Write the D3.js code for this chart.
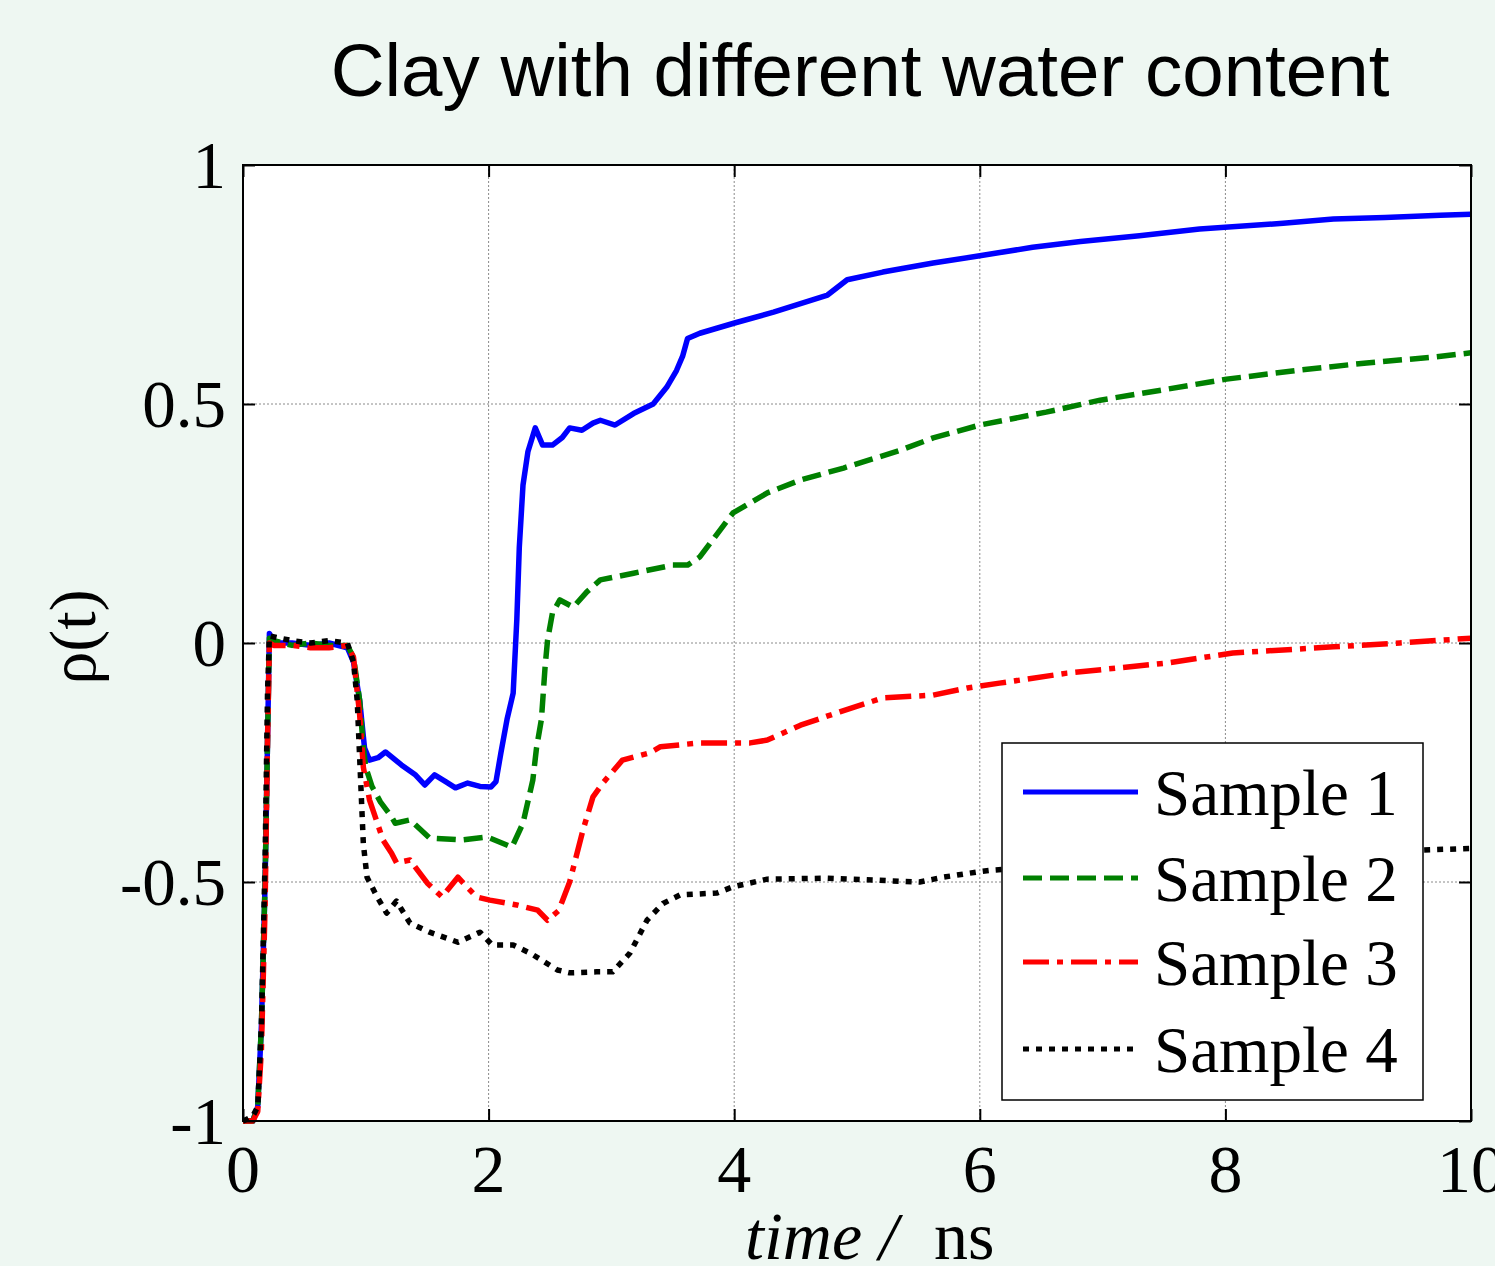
<!DOCTYPE html>
<html>
<head>
<meta charset="utf-8">
<script src="https://cdn.jsdelivr.net/npm/d3@7/dist/d3.min.js"></script>
<style>
  html, body { margin: 0; padding: 0; background: #EEF7F2; }
  svg { display: block; }
</style>
</head>
<body>
<svg id="chart" width="1495" height="1266"></svg>
<script>
// ---- data (time in ns, rho(t)) ----
const seriesNames = ["Sample 1", "Sample 2", "Sample 3", "Sample 4"];
const xTicks = [0, 2, 4, 6, 8, 10];
const yTicks = [-1, -0.5, 0, 0.5, 1];
const yTickLabels = ["-1", "-0.5", "0", "0.5", "1"];

const sample1 = [[0,-1],[0.08,-1],[0.12,-0.97],[0.15,-0.8],[0.18,-0.5],[0.2,-0.2],[0.215,0.02],[0.25,0.0],[0.4,0.0],[0.55,-0.005],[0.7,0],[0.85,-0.01],[0.9,-0.04],[0.95,-0.12],[0.99,-0.22],[1.03,-0.245],[1.1,-0.24],[1.16,-0.228],[1.29,-0.255],[1.4,-0.275],[1.48,-0.297],[1.56,-0.276],[1.65,-0.29],[1.73,-0.303],[1.83,-0.293],[1.93,-0.3],[2.02,-0.301],[2.06,-0.29],[2.1,-0.23],[2.15,-0.16],[2.2,-0.105],[2.23,0.05],[2.25,0.2],[2.28,0.33],[2.32,0.4],[2.38,0.45],[2.44,0.414],[2.52,0.414],[2.6,0.43],[2.66,0.45],[2.76,0.445],[2.85,0.46],[2.91,0.466],[3.03,0.456],[3.18,0.48],[3.34,0.5],[3.45,0.535],[3.53,0.57],[3.58,0.6],[3.62,0.637],[3.72,0.648],[4.01,0.67],[4.32,0.692],[4.76,0.728],[4.92,0.76],[5.21,0.776],[5.62,0.795],[6.0,0.81],[6.43,0.828],[6.82,0.84],[7.3,0.852],[7.79,0.866],[8.47,0.878],[8.88,0.887],[9.3,0.89],[9.75,0.895],[10,0.897]];

const sample2 = [[0,-1],[0.08,-1],[0.12,-0.97],[0.15,-0.8],[0.18,-0.5],[0.2,-0.2],[0.215,0.01],[0.25,0.005],[0.4,-0.005],[0.55,0],[0.7,-0.005],[0.85,-0.005],[0.9,-0.03],[0.95,-0.12],[0.98,-0.22],[1.0,-0.26],[1.05,-0.3],[1.12,-0.333],[1.2,-0.36],[1.24,-0.377],[1.36,-0.37],[1.52,-0.408],[1.78,-0.412],[1.99,-0.406],[2.19,-0.427],[2.28,-0.377],[2.36,-0.287],[2.39,-0.22],[2.43,-0.16],[2.46,-0.05],[2.48,0.006],[2.52,0.063],[2.58,0.09],[2.69,0.075],[2.8,0.107],[2.91,0.132],[3.18,0.146],[3.5,0.163],[3.62,0.163],[3.72,0.18],[3.99,0.272],[4.27,0.314],[4.54,0.341],[4.89,0.366],[5.35,0.403],[5.62,0.429],[6.0,0.456],[6.54,0.483],[6.98,0.508],[7.5,0.53],[8.01,0.552],[8.61,0.571],[9.15,0.586],[9.69,0.598],[10,0.607]];

const sample3 = [[0,-1],[0.08,-1],[0.12,-0.98],[0.15,-0.85],[0.18,-0.55],[0.2,-0.2],[0.215,0],[0.25,-0.005],[0.4,-0.005],[0.55,-0.01],[0.7,-0.01],[0.85,-0.005],[0.9,-0.03],[0.95,-0.15],[0.98,-0.26],[1.03,-0.328],[1.14,-0.412],[1.21,-0.44],[1.25,-0.46],[1.36,-0.454],[1.5,-0.502],[1.62,-0.531],[1.75,-0.49],[1.9,-0.531],[2.01,-0.538],[2.23,-0.548],[2.4,-0.559],[2.48,-0.58],[2.57,-0.56],[2.66,-0.5],[2.77,-0.39],[2.85,-0.322],[2.93,-0.293],[3.09,-0.245],[3.31,-0.23],[3.4,-0.217],[3.72,-0.209],[4.13,-0.209],[4.27,-0.203],[4.54,-0.172],[4.86,-0.144],[5.21,-0.115],[5.62,-0.109],[5.9,-0.094],[6.16,-0.084],[6.71,-0.063],[7.52,-0.042],[8.06,-0.021],[8.88,-0.008],[9.42,0],[10,0.01]];

const sample4 = [[0,-1],[0.08,-0.99],[0.12,-0.97],[0.15,-0.8],[0.18,-0.45],[0.2,-0.1],[0.215,0.015],[0.3,0.01],[0.4,0.005],[0.55,0],[0.7,0.005],[0.85,0],[0.9,-0.04],[0.93,-0.12],[0.96,-0.3],[0.98,-0.42],[1.01,-0.49],[1.09,-0.53],[1.17,-0.565],[1.25,-0.54],[1.36,-0.586],[1.52,-0.605],[1.75,-0.626],[1.93,-0.605],[2.03,-0.632],[2.2,-0.632],[2.34,-0.649],[2.56,-0.684],[2.66,-0.69],[2.88,-0.688],[3.01,-0.688],[3.15,-0.649],[3.29,-0.58],[3.42,-0.545],[3.56,-0.527],[3.86,-0.523],[3.99,-0.51],[4.27,-0.494],[4.76,-0.492],[5.51,-0.5],[5.7,-0.49],[5.98,-0.479],[6.11,-0.475],[7,-0.46],[8,-0.448],[9,-0.44],[9.6,-0.433],[10,-0.43]];

const seriesData = [sample1, sample2, sample3, sample4];
const seriesColors = ["#0000FF", "#008000", "#FF0000", "#000000"];
const seriesDash = [null, "19,8", "26,8,6,8", "6,7"];

// ---- layout ----
const svg = d3.select("#chart");
const L = 243, R = 1471, T = 165, B = 1121;
const x = d3.scaleLinear().domain([0, 10]).range([L, R]);
const y = d3.scaleLinear().domain([-1, 1]).range([B, T]);

svg.append("rect").attr("x", 0).attr("y", 0).attr("width", 1495).attr("height", 1266).attr("fill", "#EEF7F2");
svg.append("rect").attr("x", L).attr("y", T).attr("width", R - L).attr("height", B - T).attr("fill", "#FFFFFF");

// grid
const grid = svg.append("g").attr("stroke", "#8a8a8a").attr("stroke-width", 1).attr("stroke-dasharray", "2,2");
xTicks.filter(t => t > 0 && t < 10).forEach(t => {
  grid.append("line").attr("x1", x(t)).attr("x2", x(t)).attr("y1", T).attr("y2", B);
});
yTicks.filter(t => t > -1 && t < 1).forEach(t => {
  grid.append("line").attr("x1", L).attr("x2", R).attr("y1", y(t)).attr("y2", y(t));
});

// clip
svg.append("defs").append("clipPath").attr("id", "plotclip")
  .append("rect").attr("x", L).attr("y", T - 3).attr("width", R - L).attr("height", B - T + 6);

const line = d3.line().x(d => x(d[0])).y(d => y(d[1]));
const lines = svg.append("g").attr("clip-path", "url(#plotclip)");
seriesData.forEach((data, i) => {
  lines.append("path").datum(data)
    .attr("d", line)
    .attr("fill", "none")
    .attr("stroke", seriesColors[i])
    .attr("stroke-width", 5.5)
    .attr("stroke-linejoin", "round")
    .attr("stroke-dasharray", seriesDash[i]);
});

// axes (ticks inside on all sides)
const tickLen = 12;
const axB = d3.axisBottom(x).tickValues(xTicks).tickSize(-tickLen).tickFormat("");
const axT = d3.axisTop(x).tickValues(xTicks).tickSize(-tickLen).tickFormat("");
const axLft = d3.axisLeft(y).tickValues(yTicks).tickSize(-tickLen).tickFormat("");
const axRgt = d3.axisRight(y).tickValues(yTicks).tickSize(-tickLen).tickFormat("");
[[axB, `translate(0,${B})`], [axT, `translate(0,${T})`], [axLft, `translate(${L},0)`], [axRgt, `translate(${R},0)`]].forEach(([ax, tr]) => {
  const g = svg.append("g").attr("transform", tr).call(ax);
  g.select(".domain").remove();
  g.selectAll(".tick line").attr("stroke", "#000").attr("stroke-width", 2);
});
svg.append("rect").attr("x", L).attr("y", T).attr("width", R - L).attr("height", B - T)
  .attr("fill", "none").attr("stroke", "#000").attr("stroke-width", 2);

// tick labels
const serif = "'Liberation Serif', 'Times New Roman', serif";
svg.append("g").selectAll("text").data(xTicks).join("text")
  .attr("x", d => x(d)).attr("y", 1192)
  .attr("text-anchor", "middle")
  .attr("font-family", serif).attr("font-size", 68).attr("fill", "#000")
  .text(d => d);
svg.append("g").selectAll("text").data(yTicks).join("text")
  .attr("x", 226).attr("y", d => y(d) + 23)
  .attr("text-anchor", "end")
  .attr("font-family", serif).attr("font-size", 67).attr("fill", "#000")
  .text((d, i) => yTickLabels[i]);

// title
svg.append("text").attr("x", 860).attr("y", 96).attr("text-anchor", "middle")
  .attr("font-family", "'Liberation Sans', Arial, sans-serif").attr("font-size", 74.5).attr("fill", "#000")
  .text("Clay with different water content");

// x label
const xl = svg.append("text").attr("x", 745).attr("y", 1259)
  .attr("font-family", serif).attr("font-size", 68).attr("fill", "#000");
xl.append("tspan").attr("font-style", "italic").text("time /");
xl.append("tspan").attr("dx", 36).text("ns");

// y label
svg.append("text").attr("transform", "translate(95,637) rotate(-90)")
  .attr("text-anchor", "middle")
  .attr("font-family", serif).attr("font-size", 66).attr("fill", "#000")
  .text("ρ(t)");

// legend
const lg = svg.append("g");
lg.append("rect").attr("x", 1002).attr("y", 743).attr("width", 421).attr("height", 357)
  .attr("fill", "#FFFFFF").attr("stroke", "#000").attr("stroke-width", 1.5);
const legY = [792, 878, 962, 1049];
seriesNames.forEach((name, i) => {
  lg.append("line").attr("x1", 1023).attr("x2", 1138).attr("y1", legY[i]).attr("y2", legY[i])
    .attr("stroke", seriesColors[i]).attr("stroke-width", 5)
    .attr("stroke-dasharray", seriesDash[i]);
  lg.append("text").attr("x", 1154).attr("y", legY[i] + 23)
    .attr("font-family", serif).attr("font-size", 65).attr("fill", "#000")
    .text(name);
});
</script>
</body>
</html>
